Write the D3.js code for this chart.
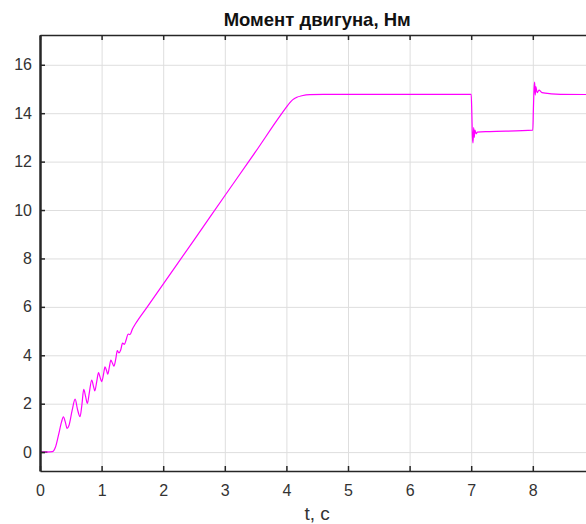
<!DOCTYPE html>
<html>
<head>
<meta charset="utf-8">
<script src="https://cdn.jsdelivr.net/npm/d3@7"></script>
<style>
  body { margin: 0; background: #fff; }
  svg { display: block; font-family: "Liberation Sans", Arial, sans-serif; }
</style>
</head>
<body>
<div id="chart"></div>
<script>
// motor torque vs time
var timeS = [0, 0.2, 0.25, 0.3, 0.35, 0.38, 0.41, 0.44, 0.47, 0.52, 0.57, 0.61, 0.65, 0.68, 0.71, 0.74,
    0.77, 0.8, 0.84, 0.865, 0.89, 0.92, 0.95, 0.975, 1.0, 1.03, 1.055, 1.08, 1.1, 1.125, 1.15, 1.175,
    1.2, 1.23, 1.255, 1.28, 1.31, 1.34, 1.37, 1.4, 1.43, 1.46, 1.5, 1.55, 1.742, 2.0, 2.5, 3.0, 3.5,
    3.9, 4.0, 4.05, 4.1, 4.17, 4.25, 4.38, 4.6, 7.0, 7.01, 7.02, 7.03, 7.04, 7.05, 7.06, 7.08, 7.1,
    7.3, 8.0, 8.01, 8.02, 8.03, 8.04, 8.05, 8.07, 8.1, 8.15, 8.3, 8.45, 9.0];
var torqueNm = [0, 0.02, 0.2, 0.7, 1.25, 1.46, 1.25, 0.98, 1.1, 1.7, 2.19, 1.75, 1.46, 1.95, 2.59, 2.3,
    2.01, 2.45, 2.98, 2.75, 2.53, 2.9, 3.28, 3.1, 2.91, 3.2, 3.52, 3.37, 3.22, 3.5, 3.8, 3.68,
    3.55, 3.85, 4.19, 4.1, 4.22, 4.5, 4.45, 4.65, 4.88, 4.85, 5.08, 5.3, 6.0, 6.94, 8.76, 10.59, 12.41,
    13.9, 14.25, 14.42, 14.55, 14.66, 14.72, 14.77, 14.78, 14.78, 14.0, 13.0, 12.77, 13.4, 13.0, 13.3, 13.15, 13.22,
    13.24, 13.3, 14.2, 15.0, 15.28, 14.75, 15.1, 14.85, 14.95, 14.85, 14.8, 14.78, 14.77];

// short darker piece at the very start
var startT = [0, 0.12];
var startV = [0, 0];

var xTicks = [0, 1, 2, 3, 4, 5, 6, 7, 8];
var yTicks = [0, 2, 4, 6, 8, 10, 12, 14, 16];

var titleText = "Момент двигуна, Нм";
var xLabel = "t, c";

var width = 586,
    height = 524,
    margin = { top: 35, left: 40 };

var plotW = 554.4, plotH = 436;

var svg = d3.select("#chart").append("svg")
    .attr("width", width)
    .attr("height", height);

var x = d3.scaleLinear().domain([0, 9]).range([margin.left, margin.left + plotW]);
var y = d3.scaleLinear().domain([-0.78, 17.23]).range([margin.top + plotH, margin.top]);

// grid
svg.append("g")
    .attr("transform", "translate(0," + (margin.top + plotH) + ")")
    .call(d3.axisBottom(x).tickValues(xTicks).tickSize(-plotH).tickFormat(""))
    .call(g => g.select(".domain").remove())
    .selectAll("line").attr("stroke", "#dedede").attr("stroke-width", 1);

svg.append("g")
    .attr("transform", "translate(" + margin.left + ",0)")
    .call(d3.axisLeft(y).tickValues(yTicks).tickSize(-plotW).tickFormat(""))
    .call(g => g.select(".domain").remove())
    .selectAll("line").attr("stroke", "#dedede").attr("stroke-width", 1);

// the line
var line = d3.line()
    .x(d => x(d[0]))
    .y(d => y(d[1]))
    .curve(d3.curveMonotoneX);

svg.append("path")
    .datum(timeS.map((t, i) => [t, torqueNm[i]]))
    .attr("fill", "none")
    .attr("stroke", "#ff00ff")
    .attr("stroke-width", 1.2)
    .attr("d", line);

svg.append("path")
    .datum(startT.map((t, i) => [t, startV[i]]))
    .attr("fill", "none")
    .attr("stroke", "#a0209a")
    .attr("stroke-width", 1.6)
    .attr("d", line);

// axes, ticks pointing inward
var xAxis = svg.append("g")
    .attr("transform", "translate(0," + (margin.top + plotH) + ")")
    .call(d3.axisBottom(x).tickValues(xTicks).tickSize(-5).tickPadding(14).tickSizeOuter(0));

var xTop = svg.append("g")
    .attr("transform", "translate(0," + margin.top + ")")
    .call(d3.axisTop(x).tickValues(xTicks).tickSize(-5).tickFormat("").tickSizeOuter(0));

var yAxis = svg.append("g")
    .attr("transform", "translate(" + margin.left + ",0)")
    .call(d3.axisLeft(y).tickValues(yTicks).tickSize(-5).tickPadding(8).tickSizeOuter(0));

[xAxis, xTop, yAxis].forEach(function (g) {
    g.select(".domain").attr("stroke", "#262626").attr("stroke-width", 1.5);
    g.selectAll(".tick line").attr("stroke", "#262626").attr("stroke-width", 1.5);
    g.selectAll(".tick text")
        .attr("fill", "#333")
        .style("font-size", "16px");
});
yAxis.select(".domain").attr("stroke-width", 2.5);

// title and x label
svg.append("text")
    .attr("x", margin.left + plotW / 2)
    .attr("y", 26)
    .attr("text-anchor", "middle")
    .style("font-size", "18.5px")
    .style("font-weight", "bold")
    .attr("fill", "#111")
    .text(titleText);

svg.append("text")
    .attr("x", margin.left + plotW / 2)
    .attr("y", 520)
    .attr("text-anchor", "middle")
    .style("font-size", "19px")
    .attr("fill", "#333")
    .text(xLabel);
</script>
</body>
</html>
